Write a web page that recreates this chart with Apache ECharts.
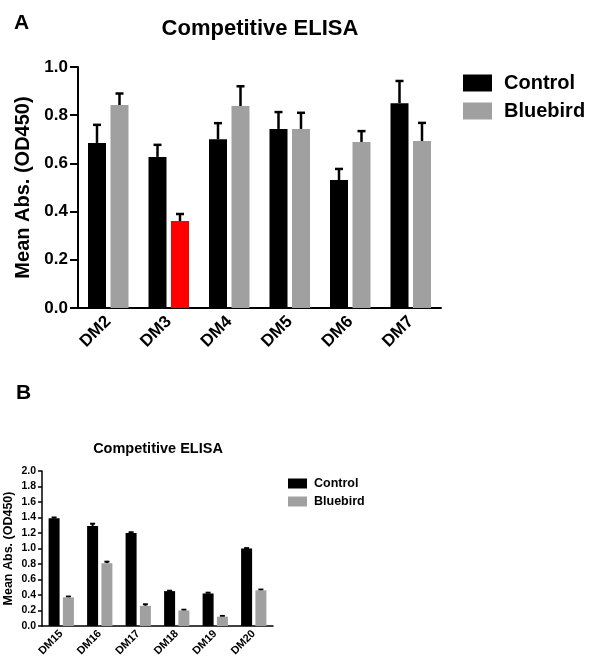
<!DOCTYPE html>
<html>
<head>
<meta charset="utf-8">
<script src="https://cdn.jsdelivr.net/npm/echarts@6/dist/echarts.min.js"></script>
<style>
html,body{margin:0;padding:0;background:#fff;}
#chart{width:593px;height:661px;}
</style>
</head>
<body>
<div id="chart"></div>
<script>
// ---- Data (panel A) ----
var topCategories = ['DM2', 'DM3', 'DM4', 'DM5', 'DM6', 'DM7'];
var topControl = [0.685, 0.627, 0.700, 0.743, 0.531, 0.850];
var topControlErr = [0.075, 0.050, 0.067, 0.070, 0.046, 0.092];
var topBluebird = [0.842, 0.361, 0.838, 0.743, 0.689, 0.693];
var topBluebirdErr = [0.048, 0.029, 0.082, 0.067, 0.045, 0.075];
var topYTicks = [0.0, 0.2, 0.4, 0.6, 0.8, 1.0];

// ---- Data (panel B) ----
var botCategories = ['DM15', 'DM16', 'DM17', 'DM18', 'DM19', 'DM20'];
var botControl = [1.39, 1.29, 1.20, 0.45, 0.42, 1.00];
var botControlErr = [0.01, 0.03, 0.01, 0.005, 0.01, 0.005];
var botBluebird = [0.37, 0.81, 0.26, 0.20, 0.12, 0.46];
var botBluebirdErr = [0.01, 0.02, 0.02, 0.01, 0.01, 0.01];
var botYTicks = [0.0, 0.2, 0.4, 0.6, 0.8, 1.0, 1.2, 1.4, 1.6, 1.8, 2.0];

var highlightIndex = 1; // DM3 Bluebird drawn red

var FONT = 'Liberation Sans, Arial, sans-serif';
var GRAY = '#a0a0a0';

function errData(vals, errs) {
  return vals.map(function (v, i) { return [i, v, errs[i]]; });
}
function errSeries(name, gridIdx, vals, errs, offset, capHalf, lw) {
  return {
    type: 'custom', name: name + ' err', xAxisIndex: gridIdx, yAxisIndex: gridIdx,
    data: errData(vals, errs), z: 1, silent: true,
    encode: { x: 0, y: 1 },
    renderItem: function (params, api) {
      var i = api.value(0), v = api.value(1), e = api.value(2);
      var p0 = api.coord([i, v]);
      var p1 = api.coord([i, v + e]);
      var x = p0[0] + offset;
      return {
        type: 'group',
        children: [
          { type: 'line', shape: { x1: x, y1: p0[1], x2: x, y2: p1[1] }, style: { stroke: '#000', lineWidth: lw } },
          { type: 'line', shape: { x1: x - capHalf, y1: p1[1], x2: x + capHalf, y2: p1[1] }, style: { stroke: '#000', lineWidth: lw } }
        ]
      };
    }
  };
}

var topBlue = topBluebird.map(function (v, i) {
  return i === highlightIndex ? { value: v, itemStyle: { color: '#ff0000' } } : v;
});

var chart = echarts.init(document.getElementById('chart'), null, { renderer: 'canvas' });
var option = {
  animation: false,
  backgroundColor: '#fff',
  textStyle: { fontFamily: FONT },
  title: [
    { text: 'Competitive ELISA', left: 255, top: 13, textAlign: 'center',
      textStyle: { fontFamily: FONT, fontSize: 22, fontWeight: 'bold', color: '#000' } },
    { text: 'Competitive ELISA', left: 153, top: 436, textAlign: 'center',
      textStyle: { fontFamily: FONT, fontSize: 14.5, fontWeight: 'bold', color: '#000' } }
  ],
  graphic: [
    { type: 'text', left: 14, top: 13, style: { text: 'A', font: 'bold 21px ' + FONT, fill: '#000' } },
    { type: 'text', left: 16, top: 383, style: { text: 'B', font: 'bold 21px ' + FONT, fill: '#000' } }
  ],
  legend: [
    { orient: 'vertical', left: 463, top: 73, padding: 0, itemWidth: 29, itemHeight: 17, itemGap: 8,
      icon: 'rect',
      data: [{ name: 'Control', itemStyle: { color: '#000' } }, { name: 'Bluebird', itemStyle: { color: GRAY } }],
      textStyle: { fontFamily: FONT, fontSize: 20, fontWeight: 'bold', color: '#000', padding: [0, 0, 0, 7] } },
    { orient: 'vertical', left: 288, top: 477, padding: 0, itemWidth: 19, itemHeight: 10, itemGap: 5,
      icon: 'rect',
      data: [{ name: 'Control', itemStyle: { color: '#000' } }, { name: 'Bluebird', itemStyle: { color: GRAY } }],
      textStyle: { fontFamily: FONT, fontSize: 12.5, fontWeight: 'bold', color: '#000', padding: [0, 0, 0, 2] } }
  ],
  grid: [
    { left: 78, top: 67, width: 363, height: 241 },
    { left: 42, top: 471, width: 231, height: 155 }
  ],
  xAxis: [
    { type: 'category', gridIndex: 0, data: topCategories,
      axisLine: { lineStyle: { color: '#000', width: 2 } },
      axisTick: { alignWithLabel: true, length: 7, lineStyle: { color: '#000', width: 2 } },
      axisLabel: { rotate: 45, margin: 11, color: '#000', fontFamily: FONT, fontSize: 17, fontWeight: 'bold' } },
    { type: 'category', gridIndex: 1, data: botCategories,
      axisLine: { lineStyle: { color: '#000', width: 1.5 } },
      axisTick: { alignWithLabel: true, length: 4, lineStyle: { color: '#000', width: 1.5 } },
      axisLabel: { rotate: 45, margin: 6, color: '#000', fontFamily: FONT, fontSize: 11, fontWeight: 'bold' } }
  ],
  yAxis: [
    { type: 'value', gridIndex: 0, min: topYTicks[0], max: topYTicks[topYTicks.length - 1], interval: 0.2,
      name: 'Mean Abs. (OD450)', nameLocation: 'middle', nameGap: 42,
      nameTextStyle: { fontFamily: FONT, fontSize: 20, fontWeight: 'bold', color: '#000' },
      axisLine: { show: true, lineStyle: { color: '#000', width: 2 } },
      axisTick: { show: true, length: 8, lineStyle: { color: '#000', width: 2 } },
      splitLine: { show: false },
      axisLabel: { color: '#000', fontFamily: FONT, fontSize: 17, fontWeight: 'bold', margin: 10,
        formatter: function (v) { return v.toFixed(1); } } },
    { type: 'value', gridIndex: 1, min: botYTicks[0], max: botYTicks[botYTicks.length - 1], interval: 0.2,
      name: 'Mean Abs. (OD450)', nameLocation: 'middle', nameGap: 27,
      nameTextStyle: { fontFamily: FONT, fontSize: 12.5, fontWeight: 'bold', color: '#000' },
      axisLine: { show: true, lineStyle: { color: '#000', width: 1.5 } },
      axisTick: { show: true, length: 4, lineStyle: { color: '#000', width: 1.5 } },
      splitLine: { show: false },
      axisLabel: { color: '#000', fontFamily: FONT, fontSize: 10.5, fontWeight: 'bold', margin: 6,
        formatter: function (v) { return v.toFixed(1); } } }
  ],
  series: [
    { type: 'bar', name: 'Control', xAxisIndex: 0, yAxisIndex: 0, data: topControl,
      barWidth: 18, barGap: '25%', itemStyle: { color: '#000' }, z: 2 },
    { type: 'bar', name: 'Bluebird', xAxisIndex: 0, yAxisIndex: 0, data: topBlue,
      barWidth: 18, barGap: '25%', itemStyle: { color: GRAY }, z: 2 },
    errSeries('Control', 0, topControl, topControlErr, -11.25, 4, 2.5),
    errSeries('Bluebird', 0, topBluebird, topBluebirdErr, 11.25, 4, 2.5),
    { type: 'bar', name: 'Control', xAxisIndex: 1, yAxisIndex: 1, data: botControl,
      barWidth: 11, barGap: '30%', itemStyle: { color: '#000' }, z: 2 },
    { type: 'bar', name: 'Bluebird', xAxisIndex: 1, yAxisIndex: 1, data: botBluebird,
      barWidth: 11, barGap: '30%', itemStyle: { color: GRAY }, z: 2 },
    errSeries('Control', 1, botControl, botControlErr, -7.15, 2.5, 2),
    errSeries('Bluebird', 1, botBluebird, botBluebirdErr, 7.15, 2.5, 2)
  ]
};
chart.setOption(option);
</script>
</body>
</html>
